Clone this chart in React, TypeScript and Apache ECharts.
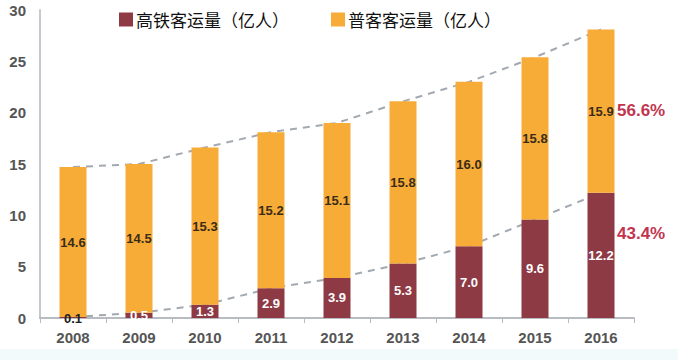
import React, { useEffect, useRef } from "react";
import * as echarts from "echarts";

const years = ["2008", "2009", "2010", "2011", "2012", "2013", "2014", "2015", "2016"];
const hsrValues = [0.1, 0.5, 1.3, 2.9, 3.9, 5.3, 7.0, 9.6, 12.2];
const regularValues = [14.6, 14.5, 15.3, 15.2, 15.1, 15.8, 16.0, 15.8, 15.9];
const yTicks = [0, 5, 10, 15, 20, 25, 30];
const hsrShare2016 = "43.4%";
const regularShare2016 = "56.6%";

const RED = "#8E3A45";
const ORANGE = "#F7AC38";

export default function App() {
  const ref = useRef<HTMLDivElement>(null);
  useEffect(() => {
    const chart = echarts.init(ref.current!, null, { renderer: "svg" });
    const totals = years.map((_, i) => +(hsrValues[i] + regularValues[i]).toFixed(1));
    const labelFont = { fontFamily: "Liberation Sans, Arial, sans-serif", fontWeight: "bold" as const };
    chart.setOption({
      animation: false,
      backgroundColor: "#ffffff",
      textStyle: { fontFamily: "Liberation Sans, Arial, sans-serif" },
      legend: {
        top: 6,
        left: 114,
        itemWidth: 14,
        itemHeight: 14,
        itemGap: 42,
        icon: "rect",
        textStyle: {
          fontSize: 17,
          color: "#111",
          fontFamily: "Noto Sans CJK SC, sans-serif",
          padding: [0, 0, 0, -2],
        },
        data: ["高铁客运量（亿人）", "普客客运量（亿人）"],
      },
      grid: { left: 40, right: 44, top: 10, bottom: 42, containLabel: false },
      xAxis: {
        type: "category",
        data: years,
        boundaryGap: true,
        axisLine: { lineStyle: { color: "#B8BCC2", width: 2 } },
        axisTick: { show: true, alignWithLabel: false, length: 5, lineStyle: { color: "#B8BCC2" } },
        axisLabel: { fontSize: 15, color: "#555", margin: 12, ...labelFont },
      },
      yAxis: {
        type: "value",
        min: yTicks[0],
        max: yTicks[yTicks.length - 1],
        interval: 5,
        axisLine: { show: true, lineStyle: { color: "#C4C8CC", width: 2 } },
        axisTick: { show: false },
        splitLine: { show: false },
        axisLabel: { fontSize: 15, color: "#555", margin: 14, ...labelFont },
      },
      graphic: [
        {
          type: "rect",
          shape: { x: 0, y: 349, width: 678, height: 11 },
          style: { fill: "#F3FAFC" },
          z: -10,
        },
        {
          type: "text",
          x: 617,
          y: 110,
          style: {
            text: regularShare2016,
            fill: "#C2354F",
            fontSize: 17,
            fontWeight: "bold",
            fontFamily: "Liberation Sans, Arial, sans-serif",
            verticalAlign: "middle",
          },
        },
        {
          type: "text",
          x: 617,
          y: 233,
          style: {
            text: hsrShare2016,
            fill: "#C2354F",
            fontSize: 17,
            fontWeight: "bold",
            fontFamily: "Liberation Sans, Arial, sans-serif",
            verticalAlign: "middle",
          },
        },
      ],
      series: [
        {
          name: "高铁客运量（亿人）",
          type: "bar",
          stack: "total",
          barWidth: 27,
          z: 3,
          itemStyle: { color: RED },
          label: {
            show: true,
            position: "inside",
            color: "#fff",
            fontSize: 13,
            ...labelFont,
            formatter: (p: any) => p.value.toFixed(1),
          },
          data: hsrValues.map((v, i) =>
            i === 0
              ? { value: v, label: { position: "bottom", distance: -6, color: "#222" } }
              : { value: v }
          ),
        },
        {
          name: "普客客运量（亿人）",
          type: "bar",
          stack: "total",
          barWidth: 27,
          z: 3,
          itemStyle: { color: ORANGE },
          label: {
            show: true,
            position: "inside",
            color: "#3A2C18",
            fontSize: 13,
            ...labelFont,
            formatter: (p: any) => p.value.toFixed(1),
          },
          data: regularValues,
        },
        {
          name: "totalLine",
          type: "line",
          data: totals,
          z: 1,
          symbol: "none",
          silent: true,
          lineStyle: { color: "#A3A9B1", width: 2, type: [7, 6] },
        },
        {
          name: "hsrLine",
          type: "line",
          data: hsrValues,
          z: 1,
          symbol: "none",
          silent: true,
          lineStyle: { color: "#A3A9B1", width: 2, type: [7, 6] },
        },
      ],
    });
    return () => chart.dispose();
  }, []);
  return <div ref={ref} style={{ width: 678, height: 360, position: "fixed", left: 0, top: 0 }} />;
}
